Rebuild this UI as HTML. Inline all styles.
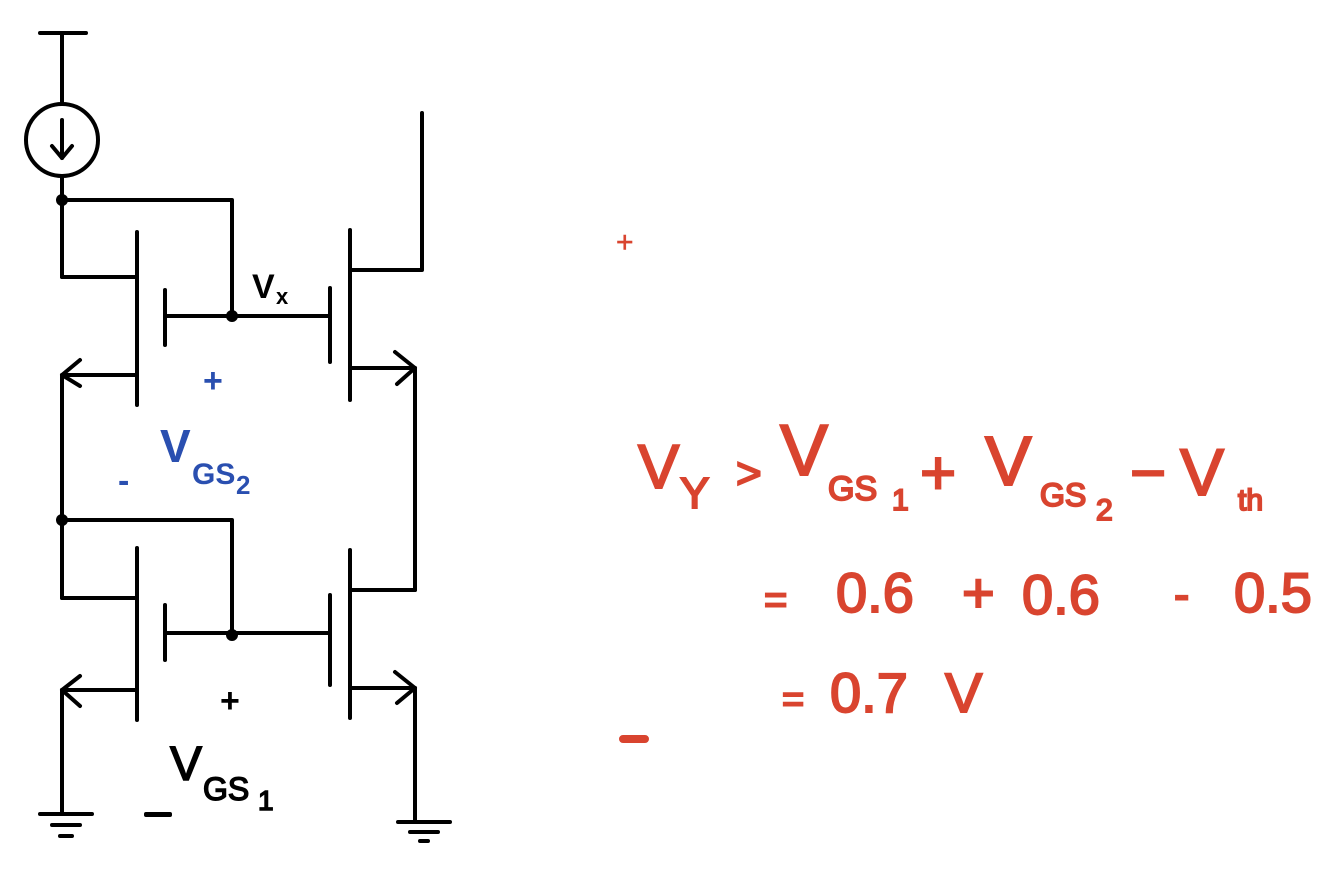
<!DOCTYPE html>
<html><head><style>html,body{margin:0;padding:0;background:#fff;}svg{display:block}</style></head>
<body>
<svg width="1340" height="883" viewBox="0 0 1340 883" xmlns="http://www.w3.org/2000/svg" font-family="Liberation Sans, sans-serif">
<g stroke="#000" stroke-width="4" fill="none" stroke-linecap="round" stroke-linejoin="round">
<line x1="40" y1="33" x2="86" y2="33"/>
<line x1="62" y1="33" x2="62" y2="104"/>
<circle cx="62" cy="140" r="36"/>
<line x1="62" y1="120" x2="62" y2="158"/>
<polyline points="52,146 62,158 72,146"/>
<line x1="62" y1="176" x2="62" y2="277"/>
<line x1="62" y1="277" x2="137" y2="277"/>
<polyline points="62,200 232,200 232,316"/>
<line x1="137" y1="232" x2="137" y2="405"/>
<line x1="165" y1="290" x2="165" y2="345"/>
<line x1="165" y1="316" x2="330" y2="316"/>
<line x1="137" y1="375" x2="62" y2="375"/>
<polyline points="80,360 62,375 80,386"/>
<line x1="62" y1="375" x2="62" y2="598"/>
<line x1="62" y1="598" x2="137" y2="598"/>
<polyline points="62,520 232,520 232,635"/>
<line x1="350" y1="230" x2="350" y2="400"/>
<line x1="330" y1="288" x2="330" y2="362"/>
<polyline points="350,270 422,270 422,113"/>
<line x1="350" y1="368" x2="415" y2="368"/>
<polyline points="395,352 415,368 397,384"/>
<line x1="415" y1="368" x2="415" y2="590"/>
<line x1="350" y1="590" x2="415" y2="590"/>
<line x1="137" y1="548" x2="137" y2="720"/>
<line x1="165" y1="605" x2="165" y2="660"/>
<line x1="165" y1="633" x2="330" y2="633"/>
<line x1="137" y1="690" x2="62" y2="690"/>
<polyline points="80,676 62,690 80,706"/>
<line x1="62" y1="690" x2="62" y2="812"/>
<line x1="350" y1="550" x2="350" y2="718"/>
<line x1="330" y1="595" x2="330" y2="685"/>
<line x1="350" y1="688" x2="415" y2="688"/>
<polyline points="395,672 415,688 397,703"/>
<line x1="415" y1="688" x2="415" y2="822"/>
<line x1="40" y1="814" x2="92" y2="814"/>
<line x1="52" y1="825" x2="80" y2="825"/>
<line x1="60" y1="836" x2="72" y2="836"/>
<line x1="398" y1="822" x2="450" y2="822"/>
<line x1="410" y1="832" x2="438" y2="832"/>
<line x1="420" y1="841" x2="428" y2="841"/>
</g>
<g fill="#000">
<circle cx="62" cy="200" r="6"/><circle cx="232" cy="316" r="6"/>
<circle cx="62" cy="520" r="6"/><circle cx="232" cy="635" r="6"/>
</g>
<g font-weight="bold">
<text x="252" y="298" font-size="34">V</text><text x="276" y="304" font-size="22">x</text>
<text x="203" y="392" font-size="34" fill="#2a4fb0">+</text>
<text x="160" y="462" font-size="46" fill="#2a4fb0">V</text>
<text x="192" y="484" font-size="30" fill="#2a4fb0">GS</text>
<text x="236" y="494" font-size="26" fill="#2a4fb0">2</text>
<text x="118" y="492" font-size="34" fill="#2a4fb0">-</text>
<text x="220" y="712" font-size="34">+</text>
</g>
<g stroke="#000" stroke-width="1.5">
<text x="170" y="780" font-size="48">V</text>
<text x="203" y="800" font-size="32">GS</text>
<text x="258" y="810" font-size="28">1</text>
</g>
<rect x="144" y="812" width="28" height="5" rx="2" fill="#000"/>
<g fill="#d9442f" stroke="#d9442f" stroke-width="2" font-size="62">
<text x="616" y="252" font-size="30" stroke-width="0.5">+</text>
<rect x="620" y="736" width="28" height="6" rx="3"/>
<text x="638" y="488">V</text><text x="680" y="508" font-size="44">Y</text>
<text x="736" y="488" font-size="44">&gt;</text>
<text x="780" y="475" font-size="72">V</text>
<text x="828" y="500" font-size="34">GS</text><text x="892" y="510" font-size="30">1</text>
<text x="920" y="494">+</text>
<text x="985" y="485" font-size="70">V</text>
<text x="1040" y="506" font-size="32">GS</text><text x="1096" y="520" font-size="30">2</text>
<text x="1130" y="494">−</text>
<text x="1180" y="495" font-size="66">V</text>
<text x="1238" y="510" font-size="30">th</text>
<text x="764" y="613" font-size="40">=</text>
<text x="836" y="612" font-size="56">0.6</text>
<text x="962" y="612" font-size="56">+</text>
<text x="1022" y="614" font-size="56">0.6</text>
<text x="1174" y="610" font-size="46">-</text>
<text x="1234" y="612" font-size="56">0.5</text>
<text x="782" y="712" font-size="38">=</text>
<text x="830" y="712" font-size="56">0.7</text>
<text x="945" y="712" font-size="56">V</text>
</g>
</svg>
</body></html>
